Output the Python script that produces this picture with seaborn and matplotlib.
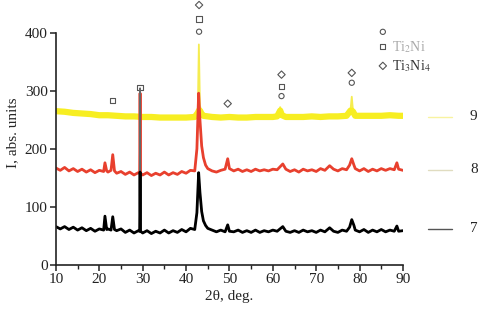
import matplotlib
matplotlib.use("Agg")
import matplotlib.pyplot as plt
import seaborn as sns
import numpy as np

# XRD patterns (2theta in deg, intensity in abs. units)
x7 = [10, 11, 12, 13, 14, 15, 16, 17, 18, 19, 20, 21, 21.3, 21.7, 22, 22.7, 23.1, 23.5, 24, 25,
      26, 27, 28, 29, 29.3, 29.4, 29.5, 30, 31, 32, 33, 34, 35, 36, 37, 38, 39, 40, 41, 42,
      42.5, 42.9, 43.2, 43.6, 44, 44.5, 45, 46, 47, 48, 49, 49.6, 50, 51, 52, 53, 54, 55, 56, 57,
      58, 59, 60, 61, 62.3, 63, 64, 65, 66, 67, 68, 69, 70, 71, 72, 73.1, 74, 75, 76, 77,
      77.7, 78.2, 78.7, 79, 80, 81, 82, 83, 84, 85, 86, 87, 88, 88.6, 89, 90]
y7 = [66, 62, 66, 61, 65, 60, 64, 59, 63, 58, 62, 60, 84, 61, 62, 60, 83, 61, 59, 62,
      56, 60, 55, 59, 58, 305, 58, 55, 59, 54, 58, 55, 60, 55, 59, 56, 61, 57, 63, 61,
      90, 159, 125, 92, 76, 68, 63, 60, 57, 60, 57, 69, 58, 57, 60, 56, 59, 56, 60, 56,
      59, 57, 60, 58, 66, 58, 56, 59, 56, 60, 57, 59, 56, 60, 57, 64, 58, 56, 60, 58,
      65, 78, 68, 60, 57, 61, 56, 60, 57, 61, 57, 60, 58, 67, 58, 59]

x8 = [10, 11, 12, 13, 14, 15, 16, 17, 18, 19, 20, 21, 21.3, 21.7, 22, 22.7, 23.1, 23.5, 24, 25,
      26, 27, 28, 29, 29.3, 29.4, 29.5, 30, 31, 32, 33, 34, 35, 36, 37, 38, 39, 40, 41, 42,
      42.5, 42.9, 43.2, 43.6, 44, 44.5, 45, 46, 47, 48, 49, 49.6, 50, 51, 52, 53, 54, 55, 56, 57,
      58, 59, 60, 61, 62.3, 63, 64, 65, 66, 67, 68, 69, 70, 71, 72, 73.1, 74, 75, 76, 77,
      77.7, 78.2, 78.7, 79, 80, 81, 82, 83, 84, 85, 86, 87, 88, 88.6, 89, 90]
y8 = [167, 163, 168, 162, 166, 161, 165, 160, 164, 159, 163, 161, 176, 162, 160, 163, 190, 162, 158, 161,
      156, 160, 155, 159, 158, 300, 158, 155, 159, 154, 158, 155, 160, 155, 159, 156, 161, 158, 163, 162,
      200, 296, 250, 205, 185, 172, 166, 162, 160, 163, 165, 183, 166, 162, 165, 161, 164, 161, 165, 162,
      164, 162, 165, 164, 174, 165, 161, 164, 160, 165, 162, 164, 161, 166, 163, 171, 165, 162, 166, 164,
      172, 183, 172, 166, 162, 166, 161, 165, 162, 166, 163, 166, 164, 176, 165, 163]

x9 = [10, 12, 14, 16, 18, 20, 22, 24, 26, 28, 30, 32, 34, 36, 38, 40, 42, 42.7, 42.95, 43.2,
      43.6, 44, 46, 48, 50, 52, 54, 56, 58, 60, 61, 61.7, 62.1, 63, 65, 67, 69, 71, 73, 75,
      77, 77.9, 78.2, 78.5, 79, 81, 83, 85, 87, 89, 90]
y9 = [265, 264, 262, 261, 260, 258, 258, 257, 256, 256, 255, 255, 254, 254, 254, 254, 255, 262, 380, 275,
      260, 257, 255, 254, 255, 254, 254, 255, 255, 255, 256, 272, 258, 255, 255, 255, 256, 255, 256, 256,
      257, 266, 290, 264, 257, 257, 257, 257, 258, 257, 257]

# phase marks above the reflections
circle_x = [43.0, 62.0, 78.2]
circle_y = [402, 291, 314]
square_x = [23.1, 29.4, 43.0, 62.0]
square_y = [283, 306, 424, 307]
diamond_x = [43.0, 49.6, 62.0, 78.2]
diamond_y = [448, 278, 328, 331]

sample_names = ["9", "8", "7"]
sample_colors = ["#f7ee22", "#e8402e", "#000000"]

sns.set_style("ticks")
plt.rcParams["font.family"] = ["Liberation Serif", "DejaVu Serif"]
plt.rcParams["mathtext.fontset"] = "stix"

fig = plt.figure(figsize=(4.78, 3.18), dpi=100)
ax = fig.add_axes([0.117, 0.167, 0.726, 0.830])

# each pattern: thin line carrying the sharp reflections, thick noisy band on top
sns.lineplot(x=x9, y=y9, color="#f5ec50", lw=1.3, ax=ax)
sns.lineplot(x=x9, y=np.minimum(y9, 266), color=sample_colors[0], lw=4.5, ax=ax)
sns.lineplot(x=x8, y=y8, color="#d8907e", lw=0.9, ax=ax)
sns.lineplot(x=x8, y=np.minimum(y8, 296), color=sample_colors[1], lw=2.0, ax=ax)
sns.lineplot(x=x7, y=y7, color="#666666", lw=1.0, ax=ax)
sns.lineplot(x=x7, y=np.minimum(y7, 160), color=sample_colors[2], lw=2.0, ax=ax)

mk = dict(facecolor="none", edgecolor="#555555", linewidth=0.8, s=14, clip_on=False, ax=ax)
sns.scatterplot(x=circle_x, y=circle_y, marker="o", **mk)
sns.scatterplot(x=square_x, y=square_y, marker="s", **mk)
sns.scatterplot(x=diamond_x, y=diamond_y, marker="D", **mk)

ax.set_xlim(10, 90)
ax.set_ylim(0, 455)
ax.set_xticks(range(10, 91, 10))
ax.set_xticks(range(15, 90, 10), minor=True)
ax.set_yticks(range(0, 401, 100))
ax.spines["top"].set_visible(False)
ax.spines["right"].set_visible(False)
ax.spines["left"].set_bounds(0, 400)
for s in ["left", "bottom"]:
    ax.spines[s].set_linewidth(1.2)
    ax.spines[s].set_color("#222222")
ax.tick_params(axis="both", which="major", labelsize=11, length=4, width=1.1, colors="#222222", pad=2)
ax.tick_params(axis="x", which="minor", length=3, width=1.0, colors="#222222")
ax.set_xlabel("2θ, deg.", fontsize=11, labelpad=3)
ax.set_ylabel("I, abs. units", fontsize=11, labelpad=4)

# phase legend (top right)
sym_x = 0.942
for m, yy, lab in [("o", 0.883, ""), ("s", 0.826, "Ti$_2$Ni"), ("D", 0.754, "Ti$_3$Ni$_4$")]:
    ax.scatter([sym_x], [yy], marker=m, s=14, facecolor="none", edgecolor="#555555",
               linewidth=0.8, transform=ax.transAxes, clip_on=False)
    if lab:
        ax.text(sym_x + 0.025, yy, lab, transform=ax.transAxes, fontsize=10,
                va="center", ha="left", color="#333333" if "4" in lab else "#aaaaaa")

# sample legend on the right
for name, col, yy in zip(sample_names, ["#f8f3a0", "#e0dcc0", "#555555"], [0.561, 0.360, 0.136]):
    ax.plot([1.072, 1.141], [yy, yy], color=col, lw=1.0, transform=ax.transAxes, clip_on=False)
    ax.text(1.193, yy, name, transform=ax.transAxes, fontsize=11, va="center", ha="left")

fig.savefig("out.png", dpi=100)
